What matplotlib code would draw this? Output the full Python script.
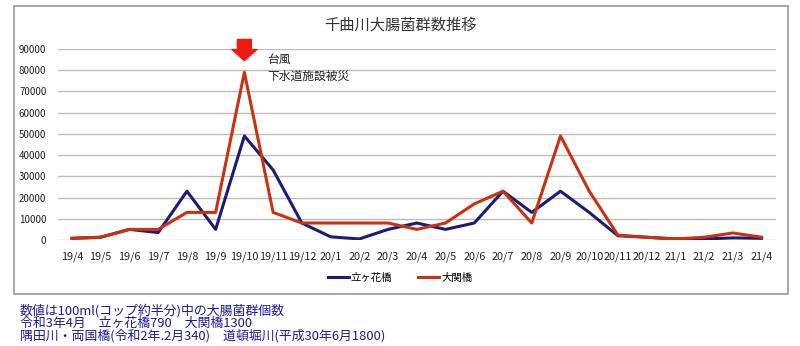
import matplotlib.pyplot as plt
from matplotlib.patches import Rectangle

plt.rcParams['font.family'] = ['Noto Sans CJK JP', 'DejaVu Sans']

months = ["19/4", "19/5", "19/6", "19/7", "19/8", "19/9", "19/10", "19/11", "19/12",
          "20/1", "20/2", "20/3", "20/4", "20/5", "20/6", "20/7", "20/8", "20/9",
          "20/10", "20/11", "20/12", "21/1", "21/2", "21/3", "21/4"]
tategahana = [800, 1300, 5000, 3500, 23000, 5000, 49000, 33000, 8000,
              1500, 500, 5000, 8000, 5000, 8000, 23000, 13000, 23000,
              13000, 2000, 1300, 500, 500, 1000, 790]
ozeki = [800, 1300, 5000, 5000, 13000, 13000, 79000, 13000, 8000,
         8000, 8000, 8000, 5000, 8000, 17000, 23000, 8000, 49000,
         23000, 2300, 1300, 500, 1300, 3300, 1300]
yticks = list(range(0, 90001, 10000))

fig = plt.figure(figsize=(8, 3.46), dpi=100)

# chart frame
fig.patches.append(Rectangle((14/800, 1-294/346), 774/800, 288/346, transform=fig.transFigure,
                             fill=False, edgecolor='#9a9a9a', linewidth=1.2))

ax = fig.add_axes([57.6/800, 1-240/346, 718.4/800, 191/346])
x = list(range(len(months)))
ax.plot(x, tategahana, color='#1c1c78', linewidth=2.2, label='立ヶ花橋')
ax.plot(x, ozeki, color='#c8320f', linewidth=2.2, label='大関橋')

ax.set_xlim(-0.5, len(months) - 0.5)
ax.set_ylim(0, 90000)
ax.set_yticks(yticks)
ax.set_yticklabels([str(v) for v in yticks], fontsize=7)
ax.set_xticks(x)
ax.set_xticklabels(months, fontsize=7.8)
ax.tick_params(length=0, pad=8, colors='#222222')
ax.grid(axis='y', color='#bdbdbd', linewidth=1)
ax.set_axisbelow(True)
for s in ax.spines.values():
    s.set_visible(False)

fig.text(0.5, 1-25/346, '千曲川大腸菌群数推移', ha='center', va='center', fontsize=11, color='#333333')

# typhoon annotation
ax.annotate('', xy=(6, 84500), xytext=(6, 94500), annotation_clip=False,
            arrowprops=dict(arrowstyle='simple,head_width=1.8,head_length=0.8,tail_width=1.0',
                            color='#ee1c0c', shrinkA=0, shrinkB=0))
ax.text(6.8, 81000, '台風\n下水道施設被災', fontsize=8.5, va='center', ha='left',
        linespacing=1.35, color='#222222')

fig.legend(loc='center', bbox_to_anchor=(0.5, 1-278/346), ncol=2, frameon=False,
           fontsize=7.5, handlelength=2.0, handletextpad=0.2, columnspacing=2.5)

notes = ["数値は100ml(コップ約半分)中の大腸菌群個数",
         "令和3年4月　立ヶ花橋790　大関橋1300",
         "隅田川・両国橋(令和2年.2月340)　道頓堀川(平成30年6月1800)"]
for i, line in enumerate(notes):
    fig.text(20/800, 1-(311+12.3*i)/346, line, fontsize=9.3, color='#1a1a9a', va='center', ha='left',
             linespacing=1.0)

fig.savefig('out.png', dpi=100)
